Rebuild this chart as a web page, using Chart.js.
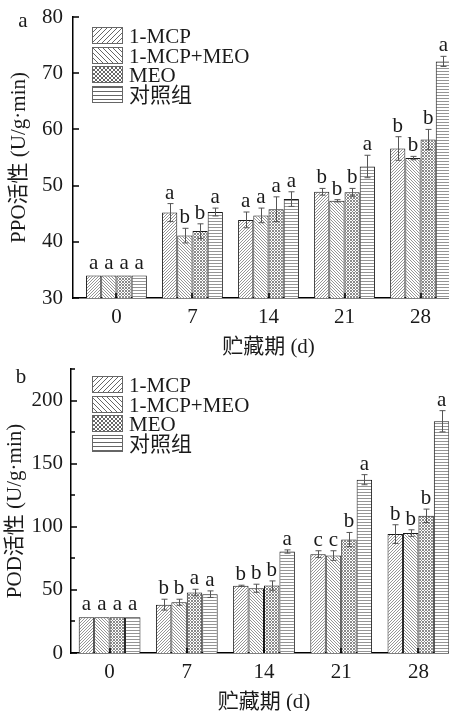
<!DOCTYPE html>
<html>
<head>
<meta charset="utf-8">
<script src="https://cdn.jsdelivr.net/npm/chart.js@4/dist/chart.umd.min.js"></script>
<style>
  html, body { margin: 0; padding: 0; background: #fff; }
  body { width: 449px; height: 711px; overflow: hidden; position: relative; }
  .panel { position: absolute; left: 0; }
  #wrapA { top: 0; }
  #wrapB { top: 355px; }
</style>
</head>
<body>
<div class="panel" id="wrapA"><canvas id="ppoChart" width="480" height="362"></canvas></div>
<div class="panel" id="wrapB"><canvas id="podChart" width="480" height="365"></canvas></div>
<script>
// Storage time (days) and treatment groups
const days = [0, 7, 14, 21, 28];
const groupNames = ['1-MCP', '1-MCP+MEO', 'MEO', '对照组'];

// PPO activity, U/g·min (mean, SD, significance letters)
const ppoMcp    = [34.0, 45.2, 43.9, 48.9, 56.6];
const ppoMcpMeo = [34.0, 41.1, 44.7, 47.3, 54.9];
const ppoMeo    = [34.0, 41.9, 45.8, 48.8, 58.2];
const ppoCtrl   = [34.0, 45.3, 47.6, 53.4, 72.1];
const ppoMcpSd    = [0, 1.6, 1.4, 0.6, 2.1];
const ppoMcpMeoSd = [0, 1.3, 1.3, 0.2, 0.3];
const ppoMeoSd    = [0, 1.3, 2.2, 0.7, 1.8];
const ppoCtrlSd   = [0, 0.7, 1.3, 2.0, 0.9];
const ppoMcpSig    = ['a', 'a', 'a', 'b', 'b'];
const ppoMcpMeoSig = ['a', 'b', 'a', 'b', 'b'];
const ppoMeoSig    = ['a', 'b', 'a', 'b', 'b'];
const ppoCtrlSig   = ['a', 'a', 'a', 'a', 'a'];
const ppoTicks = [30, 40, 50, 60, 70, 80];

// POD activity, U/g·min (mean, SD, significance letters)
const podMcp    = [28.3, 38.3, 53.2, 78.3, 94.2];
const podMcpMeo = [28.3, 40.2, 51.3, 77.2, 95.0];
const podMeo    = [28.3, 47.9, 53.4, 89.9, 108.7];
const podCtrl   = [28.3, 46.6, 80.4, 137.3, 183.6];
const podMcpSd    = [0, 4.3, 0.5, 2.7, 7.4];
const podMcpMeoSd = [0, 2.4, 3.2, 3.8, 2.6];
const podMeoSd    = [0, 2.6, 3.7, 5.6, 5.3];
const podCtrlSd   = [0, 2.6, 1.3, 4.0, 8.4];
const podMcpSig    = ['a', 'b', 'b', 'c', 'b'];
const podMcpMeoSig = ['a', 'b', 'b', 'c', 'b'];
const podMeoSig    = ['a', 'a', 'b', 'b', 'b'];
const podCtrlSig   = ['a', 'a', 'a', 'a', 'a'];
const podTicks = [0, 50, 100, 150, 200];
const podMinorTicks = [25, 75, 125, 175, 225];

const FONT = '"Liberation Serif", "Noto Sans CJK SC", serif';
const FS = 21;
const INK = '#1a1a1a';
Chart.defaults.color = INK;
Chart.defaults.font.family = FONT;

// Hatch fills: '/', '\', cross-hatch and horizontal lines
function hatch(kind, s, color, lw) {
  const c = document.createElement('canvas');
  c.width = s; c.height = s;
  const g = c.getContext('2d');
  g.fillStyle = '#fff';
  g.fillRect(0, 0, s, s);
  g.strokeStyle = color;
  g.lineWidth = lw;
  g.beginPath();
  if (kind === 'fwd' || kind === 'cross') {
    g.moveTo(0, s); g.lineTo(s, 0);
    g.moveTo(-1, 1); g.lineTo(1, -1);
    g.moveTo(s - 1, s + 1); g.lineTo(s + 1, s - 1);
  }
  if (kind === 'back' || kind === 'cross') {
    g.moveTo(0, 0); g.lineTo(s, s);
    g.moveTo(-1, s - 1); g.lineTo(1, s + 1);
    g.moveTo(s - 1, -1); g.lineTo(s + 1, 1);
  }
  if (kind === 'horiz') {
    g.moveTo(0, s - 0.5); g.lineTo(s, s - 0.5);
  }
  g.stroke();
  return g.createPattern(c, 'repeat');
}
const barFills = [
  hatch('fwd', 3, '#959595', 1),
  hatch('back', 3, '#959595', 1),
  hatch('cross', 3, '#8a8a8a', 1),
  hatch('horiz', 3, '#959595', 1)
];
const keyFills = [
  hatch('fwd', 5, '#666', 1),
  hatch('back', 5, '#666', 1),
  hatch('cross', 4, '#666', 1),
  hatch('horiz', 4, '#666', 1)
];

// Error bars, significance letters, inward ticks, key and panel letter
function decor(p) {
  return {
    id: 'decor',
    afterDatasetsDraw(chart) {
      const { ctx, chartArea, scales: { x, y } } = chart;
      ctx.save();
      chart.data.datasets.forEach((ds, k) => {
        const meta = chart.getDatasetMeta(k);
        meta.data.forEach((bar, i) => {
          const v = p.series[k][i], e = p.sd[k][i];
          const cx = Math.round(bar.x) + 0.5;
          const top = y.getPixelForValue(v + e);
          if (e > 0) {
            const bot = y.getPixelForValue(v - e);
            ctx.strokeStyle = '#555';
            ctx.lineWidth = 1;
            ctx.beginPath();
            ctx.moveTo(cx, top); ctx.lineTo(cx, bot);
            ctx.moveTo(cx - 3, top); ctx.lineTo(cx + 3, top);
            ctx.moveTo(cx - 3, bot); ctx.lineTo(cx + 3, bot);
            ctx.stroke();
          }
          ctx.fillStyle = INK;
          ctx.font = FS + 'px ' + FONT;
          ctx.textAlign = 'center';
          ctx.textBaseline = 'alphabetic';
          ctx.fillText(p.sig[k][i], bar.x, top - (e > 0 ? 5 : 7));
        });
      });

      // tick marks pointing into the plot
      ctx.strokeStyle = '#000';
      ctx.lineWidth = 1.5;
      ctx.beginPath();
      p.yTicks.forEach(v => {
        const py = Math.round(y.getPixelForValue(v));
        ctx.moveTo(chartArea.left, py); ctx.lineTo(chartArea.left + 6, py);
      });
      (p.yMinor || []).forEach(v => {
        const py = Math.round(y.getPixelForValue(v));
        ctx.moveTo(chartArea.left, py); ctx.lineTo(chartArea.left + 4, py);
      });
      days.forEach(d => {
        const px = Math.round(x.getPixelForValue(d));
        ctx.moveTo(px, chartArea.bottom); ctx.lineTo(px, chartArea.bottom - 5);
      });
      ctx.stroke();

      // key
      const lx = 92, lw = 31, lh = 17;
      groupNames.forEach((name, k) => {
        const ty = Math.round(p.keyTop + k * 19.7);
        ctx.fillStyle = keyFills[k];
        ctx.fillRect(lx, ty, lw, lh);
        ctx.strokeStyle = '#666';
        ctx.lineWidth = 1;
        ctx.strokeRect(lx + 0.5, ty + 0.5, lw - 1, lh - 1);
        ctx.fillStyle = INK;
        ctx.font = FS + 'px ' + FONT;
        ctx.textAlign = 'left';
        ctx.textBaseline = 'alphabetic';
        ctx.fillText(name, 129, ty + lh - 1);
      });

      // panel letter
      ctx.font = FS + 'px ' + FONT;
      ctx.textAlign = 'center';
      ctx.fillText(p.tag, p.tagX, p.tagY);
      ctx.restore();
    }
  };
}

function panel(canvasId, p) {
  const datasets = p.series.map((vals, k) => ({
    label: groupNames[k],
    data: days.map((d, i) => ({ x: d, y: vals[i] })),
    backgroundColor: barFills[k],
    borderColor: '#1a1a1a',
    borderWidth: 1,
    categoryPercentage: 0.8,
    barPercentage: 1.0
  }));
  return new Chart(document.getElementById(canvasId), {
    type: 'bar',
    data: { datasets },
    options: {
      responsive: false,
      animation: false,
      layout: { padding: { left: 0, top: p.padTop, right: p.padRight, bottom: 0 } },
      plugins: { legend: { display: false }, tooltip: { enabled: false } },
      scales: {
        x: {
          type: 'linear',
          min: p.xMin,
          max: p.xMax,
          offset: false,
          grid: { display: false, drawTicks: false },
          border: { display: true, color: '#000', width: 1.5 },
          ticks: { padding: 7, font: { size: FS }, color: INK, autoSkip: false, maxRotation: 0,
                   callback: v => String(v) },
          title: { display: true, text: '贮藏期 (d)', font: { size: FS }, color: INK,
                   padding: { top: 0, bottom: p.xTitlePad } },
          afterBuildTicks: s => { s.ticks = days.map(v => ({ value: v })); },
          afterFit: s => { s.height = p.xHeight; }
        },
        y: {
          min: p.yMin,
          max: p.yMax,
          grid: { display: false, drawTicks: false },
          border: { display: true, color: '#000', width: 1.5 },
          ticks: { padding: p.yTickPad, font: { size: FS }, color: INK },
          title: { display: true, text: p.yTitle, font: { size: FS }, color: INK,
                   padding: { top: p.yTitlePad, bottom: 0 } },
          afterBuildTicks: s => { s.ticks = p.yTicks.map(v => ({ value: v })); },
          afterFit: s => { s.width = p.yWidth; s.paddingTop = 0; s.paddingBottom = 0; }
        }
      }
    },
    plugins: [decor(p)]
  });
}

panel('ppoChart', {
  series: [ppoMcp, ppoMcpMeo, ppoMeo, ppoCtrl],
  sd: [ppoMcpSd, ppoMcpMeoSd, ppoMeoSd, ppoCtrlSd],
  sig: [ppoMcpSig, ppoMcpMeoSig, ppoMeoSig, ppoCtrlSig],
  yTicks: ppoTicks, yMin: 30, yMax: 80,
  yTitle: 'PPO活性 (U/g·min)',
  xMin: -4, xMax: 32,
  padTop: 17, padRight: 16, xHeight: 64, xTitlePad: 2,
  yWidth: 73, yTickPad: 10, yTitlePad: 7,
  keyTop: 27, tag: 'a', tagX: 23, tagY: 27
});

panel('podChart', {
  series: [podMcp, podMcpMeo, podMeo, podCtrl],
  sd: [podMcpSd, podMcpMeoSd, podMeoSd, podCtrlSd],
  sig: [podMcpSig, podMcpMeoSig, podMeoSig, podCtrlSig],
  yTicks: podTicks, yMinor: podMinorTicks, yMin: 0, yMax: 225,
  yTitle: 'POD活性 (U/g·min)',
  xMin: -3.5, xMax: 31.5,
  padTop: 14, padRight: 23, xHeight: 67, xTitlePad: 5,
  yWidth: 71, yTickPad: 8, yTitlePad: 3,
  keyTop: 21, tag: 'b', tagX: 21, tagY: 28
});
</script>
</body>
</html>
